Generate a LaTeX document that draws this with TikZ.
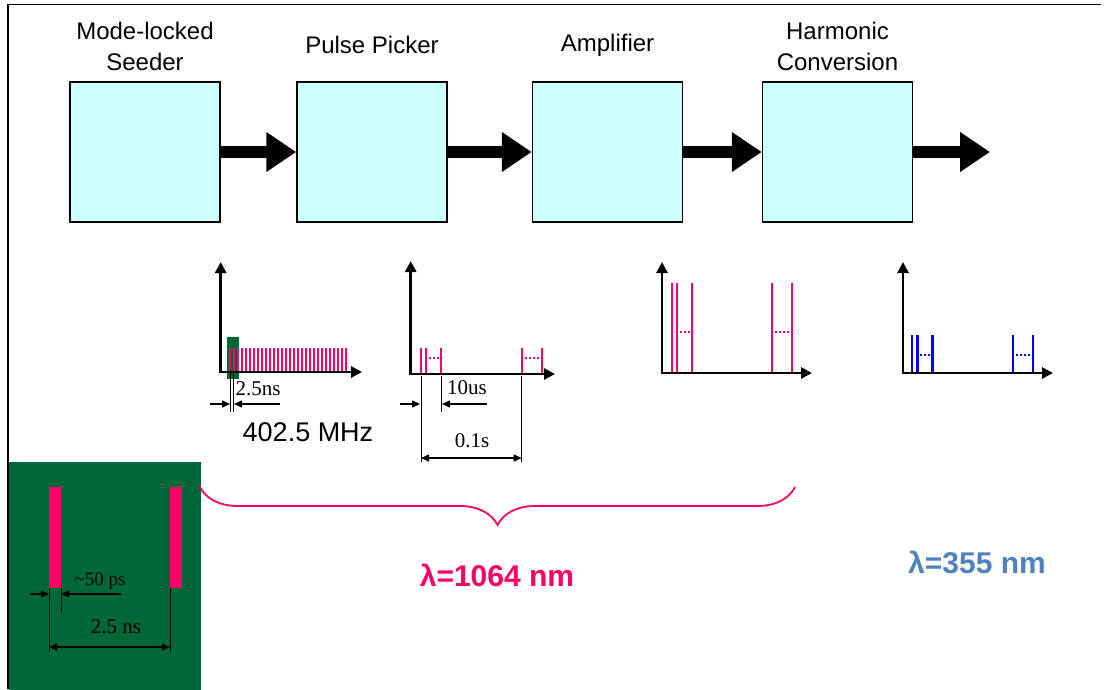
\documentclass[tikz,border=0pt]{standalone}
\usepackage{fontspec}
\setmainfont{Liberation Sans}
\newfontfamily\timesfont{Liberation Serif}
\usetikzlibrary{positioning,arrows.meta,decorations.pathreplacing}
\definecolor{boxcyan}{RGB}{204,255,255}
\definecolor{pulsepink}{RGB}{255,0,102}
\definecolor{panelgreen}{RGB}{0,104,56}
\definecolor{uvblue}{RGB}{0,0,255}
\definecolor{labelblue}{RGB}{79,129,189}

\begin{document}
\begin{tikzpicture}[
    x=1pt, y=-1pt,
    stage/.style={rectangle, draw, line width=1.5pt, fill=boxcyan, minimum width=150pt, minimum height=140pt},
    stagename/.style={align=center, font=\fontsize{24}{31}\selectfont},
    flow/.style={line width=12pt, -{Triangle[length=30pt,width=38pt]}},
    axis/.style={line width=2.8pt, {Triangle[length=11pt,width=11pt]}-{Triangle[length=11pt,width=11pt]}},
    pulse/.style={line width=2.2pt},
    gap/.style={line width=1.2pt, dash pattern=on 1.5pt off 2.5pt},
    dim/.style={line width=1.4pt, -{Triangle[length=8pt,width=7pt]}},
    dimboth/.style={line width=1.4pt, {Triangle[length=8pt,width=7pt]}-{Triangle[length=8pt,width=7pt]}},
    ext/.style={line width=0.9pt},
    dimtext/.style={font=\timesfont\fontsize{21}{21}\selectfont, inner sep=0pt}
]
\useasboundingbox (0,0) rectangle (1105,689);

% Frame and zoomed pulse panel
\draw[line width=1.3pt] (8,689) -- (8,4.5) -- (1101,4.5);
\fill[panelgreen] (9,462) rectangle (201,690);

% Stages
\node[stage] (seeder) at (145,152) {};
\node[stage] (picker) at (372,152) {};
\node[stage] (amp) at (607.5,152) {};
\node[stage] (conv) at (837.5,152) {};
\coordinate (out) at (990,152);

\node[stagename] (seedername) at (145,46) {Mode-locked\\Seeder};
\node[stagename] (pickername) at (372,45) {Pulse Picker};
\node[stagename] (ampname) at (607.5,45) {Amplifier};
\node[stagename] (convname) at (837.5,46) {Harmonic\\Conversion};

% Arrows
\draw[flow] (seeder) -- (picker);
\draw[flow] (picker) -- (amp);
\draw[flow] (amp) -- (conv);
\draw[flow] (conv) -- (out);

% Seeder pulse train
\fill[panelgreen] (227,337) rectangle (239,379);
\foreach \i in {0,...,29}
    \draw[pulse, pulsepink] ({230+4*\i},348) -- ({230+4*\i},372);
\draw[axis] (220.7,262) -- (220.7,372) -- (362,372);
\draw[ext] (230.7,372) -- (230.7,412);
\draw[ext] (233.3,372) -- (233.3,412);
\draw[dim] (210,404) -- (230,404);
\draw[dim] (280,404) -- (234,404);
\node[dimtext] (seederdt) at (258,389) {2.5ns};
\node[font=\fontsize{27}{27}\selectfont] (seederrate) at (308,432) {402.5 MHz};

% Picked pulses
\foreach \px in {421,425.7,441,521.7,541.7}
    \draw[pulse, pulsepink] (\px,348) -- (\px,374);
\draw[gap, pulsepink] (429,358) -- (439,358);
\draw[gap, pulsepink] (525,358) -- (539,358);
\draw[axis] (410.7,261) -- (410.7,374) -- (555,374);
\draw[ext] (421,376) -- (421,462);
\draw[ext] (441,376) -- (441,412);
\draw[ext] (521.7,376) -- (521.7,462);
\draw[dim] (400,404) -- (420,404);
\draw[dim] (487,404) -- (442,404);
\node[dimtext] (pickerdt) at (467,388) {10us};
\draw[dimboth] (421,458) -- (521.7,458);
\node[dimtext] (pickerperiod) at (472,441) {0.1s};

% Amplified pulses
\foreach \px in {672,677,692,772,792}
    \draw[pulse, pulsepink] (\px,283) -- (\px,373);
\draw[gap, pulsepink] (680,332) -- (690,332);
\draw[gap, pulsepink] (775,332) -- (790,332);
\draw[axis] (662,262) -- (662,373) -- (812,373);

% Converted pulses
\foreach \px in {912,917.5,932.5,1013,1033}
    \draw[pulse, uvblue] (\px,335) -- (\px,373);
\draw[gap, uvblue] (920,355) -- (931,355);
\draw[gap, uvblue] (1016,355) -- (1031,355);
\draw[axis] (903,262) -- (903,373) -- (1053,373);

% Zoomed pulses
\fill[pulsepink] (49,487) rectangle (61,588);
\fill[pulsepink] (170,487) rectangle (182,588);
\draw[ext] (49,588) -- (49,652);
\draw[ext] (61,588) -- (61,612);
\draw[ext] (170,588) -- (170,652);
\draw[dim] (30,594) -- (49,594);
\draw[dim] (121,594) -- (61,594);
\node[dimtext, font=\timesfont\fontsize{19}{19}\selectfont] (zoomwidth) at (100,581) {\textasciitilde50 ps};
\draw[dimboth] (49,647) -- (170,647);
\node[dimtext] (zoomperiod) at (116,627) {2.5 ns};

% Wavelengths
\draw[pulsepink, line width=1.8pt, decorate, decoration={brace, mirror, amplitude=38pt}] (200,487) -- (795,487);
\node[font=\bfseries\fontsize{30}{30}\selectfont, text=pulsepink] (irlabel) at (497,575) {λ=1064 nm};
\node[font=\bfseries\fontsize{30}{30}\selectfont, text=labelblue] (uvlabel) at (977,562) {λ=355 nm};

\end{tikzpicture}
\end{document}
